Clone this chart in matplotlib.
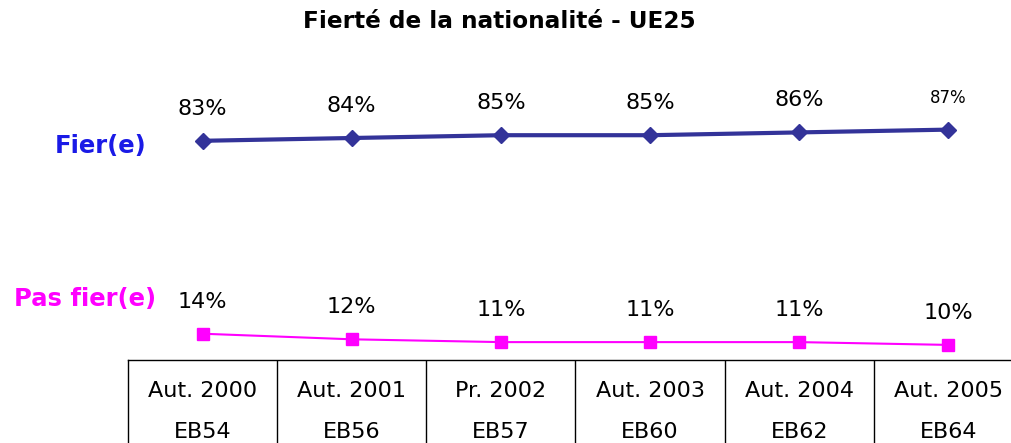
import matplotlib
matplotlib.use("Agg")
import matplotlib.pyplot as plt

categories = ["Aut. 2000", "Aut. 2001", "Pr. 2002", "Aut. 2003", "Aut. 2004", "Aut. 2005"]
waves = ["EB54", "EB56", "EB57", "EB60", "EB62", "EB64"]
fier = [83, 84, 85, 85, 86, 87]
pas_fier = [14, 12, 11, 11, 11, 10]
title = "Fierté de la nationalité - UE25"

W, H = 1012, 443
fig = plt.figure(figsize=(W / 100, H / 100), dpi=100)
plt.rcParams['font.family'] = ['DejaVu Sans']

def px_rect(x0, y0, x1, y1):
    return [x0 / W, 1 - y1 / H, (x1 - x0) / W, (y1 - y0) / H]

ax = fig.add_axes(px_rect(128, 60, 1023, 360))
x = list(range(len(categories)))
ax.plot(x, fier, color="#333399", lw=3, marker="D", ms=8, clip_on=False)
ax.plot(x, pas_fier, color="#FF00FF", lw=1.5, marker="s", ms=8, clip_on=False)
ax.set_xlim(-0.5, len(categories) - 0.5)
ax.set_ylim(4.6, 111.9)
ax.axis("off")

for i, v in enumerate(fier):
    fs = 12 if i == len(fier) - 1 else 16
    ax.annotate(f"{v}%", (i, v), xytext=(0, 23), textcoords="offset points",
                ha="center", va="center", fontsize=fs)
for i, v in enumerate(pas_fier):
    ax.annotate(f"{v}%", (i, v), xytext=(0, 23), textcoords="offset points",
                ha="center", va="center", fontsize=16)

fig.text(101 / W, 1 - 146 / H, "Fier(e)", color="#1a1ae6", fontsize=17.5,
         fontweight="bold", ha="center", va="center")
fig.text(85 / W, 1 - 299 / H, "Pas fier(e)", color="#FF00FF", fontsize=17.5,
         fontweight="bold", ha="center", va="center")
fig.text(499 / W, 1 - 22 / H, title, fontsize=16.7, fontweight="bold",
         ha="center", va="center")

# table below
tx = fig.add_axes(px_rect(128, 360, 1023, 463))
tx.set_xlim(-0.5, len(categories) - 0.5)
tx.set_ylim(0, 1)
tx.set_xticks([])
tx.set_yticks([])
for s in ["top", "left", "right", "bottom"]:
    tx.spines[s].set_color("black")
    tx.spines[s].set_linewidth(1)
for i in range(len(categories) - 1):
    tx.axvline(i + 0.5, color="black", lw=1)
for i, (c, w) in enumerate(zip(categories, waves)):
    tx.text(i, 0.699, c, ha="center", va="center", fontsize=16)
    tx.text(i, 0.301, w, ha="center", va="center", fontsize=16)

fig.savefig("out.png", dpi=100, facecolor="white")
